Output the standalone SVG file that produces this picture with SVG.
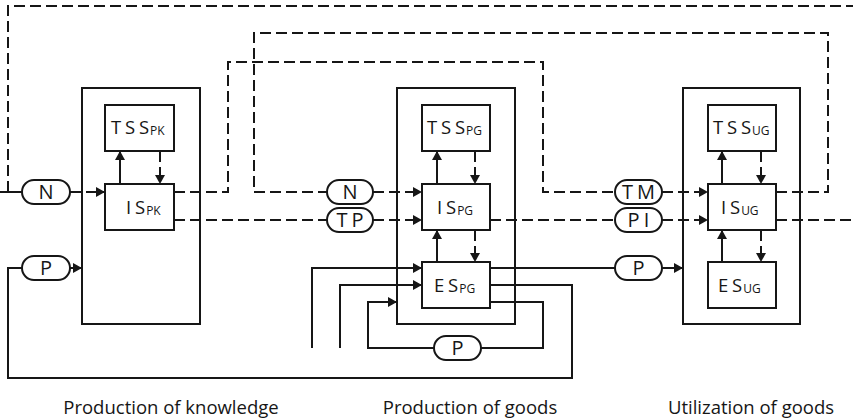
<svg xmlns="http://www.w3.org/2000/svg" width="853" height="420" viewBox="0 0 853 420">
  <defs>
    <marker id="arrow" markerUnits="userSpaceOnUse" markerWidth="9" markerHeight="10" refX="9" refY="5" orient="auto">
      <path d="M0,0 L9,5 L0,10 z" fill="#161616"/>
    </marker>
    <style>
      .frame{fill:none;stroke:#161616;stroke-width:2}
      .box{fill:#fff;stroke:#161616;stroke-width:2}
      .pill{fill:#fff;stroke:#161616;stroke-width:2}
      .solid{fill:none;stroke:#161616;stroke-width:2}
      .dash{fill:none;stroke:#161616;stroke-width:2;stroke-dasharray:11 5}
      .arr{marker-end:url(#arrow)}
      text{font-family:"Open Sans","Noto Sans","Liberation Sans",sans-serif;fill:#161616}
      .lbl{font-size:18.5px;word-spacing:-1px}
      .sub{font-size:12px;word-spacing:0}
      .plbl{font-size:20px;text-anchor:middle;word-spacing:-1px}
      .cap{font-size:18.5px;text-anchor:middle}
    </style>
  </defs>

  <!-- subsystem frames -->
  <g id="frame-pk"><rect class="frame" x="82" y="88" width="118" height="236"/></g>
  <g id="frame-pg"><rect class="frame" x="397" y="88" width="118" height="236"/></g>
  <g id="frame-ug"><rect class="frame" x="683" y="88" width="117" height="236"/></g>

  <g id="connectors">
    <!-- information flows (dashed) -->
    <path class="solid" d="M0,192 H22"/>
    <path class="dash" d="M8,192 V6 H853"/>
    <path class="dash arr" d="M70,192 H105"/>
    <path class="dash" d="M174,192 H228 V62 H543 V192 H615"/>
    <path class="dash arr" d="M662,192 H708"/>
    <path class="dash" d="M776,192 H828 V33 H254 V192 H327"/>
    <path class="dash arr" d="M373,192 H422"/>
    <path class="dash" d="M174,220 H327"/>
    <path class="dash arr" d="M373,220 H422"/>
    <path class="dash" d="M490,220 H615"/>
    <path class="dash arr" d="M662,220 H708"/>
    <path class="dash" d="M776,220 H853"/>

    <!-- product flows (solid) -->
    <path class="solid" d="M490,268 H615"/>
    <path class="solid arr" d="M662,268 H683"/>
    <path class="solid" d="M490,285 H572 V378 H8 V268 H22"/>
    <path class="solid arr" d="M70,268 H82"/>
    <path class="solid" d="M490,302 H543 V348 H481"/>
    <path class="solid arr" d="M434,348 H368 V302 H397"/>
    <path class="solid arr" d="M312,348 V268 H422"/>
    <path class="solid arr" d="M340,348 V285 H422"/>

    <!-- links inside subsystems -->
    <path class="solid arr" d="M120,184 V151"/>
    <path class="dash arr" d="M160,151 V184"/>
    <path class="solid arr" d="M437,184 V151"/>
    <path class="dash arr" d="M475,151 V184"/>
    <path class="solid arr" d="M437,262 V230"/>
    <path class="dash arr" d="M475,230 V262"/>
    <path class="solid arr" d="M722,184 V151"/>
    <path class="dash arr" d="M761,151 V184"/>
    <path class="solid arr" d="M722,262 V230"/>
    <path class="dash arr" d="M761,230 V262"/>
  </g>

  <!-- production of knowledge -->
  <g id="tss-pk"><rect class="box" x="105" y="105" width="69" height="46"/>
    <text class="lbl" x="111" y="134">T S S<tspan class="sub" dx="1" dy="1">PK</tspan></text></g>
  <g id="is-pk"><rect class="box" x="105" y="184" width="69" height="46"/>
    <text class="lbl" x="126" y="214">I S<tspan class="sub" dx="1" dy="1">PK</tspan></text></g>

  <!-- production of goods -->
  <g id="tss-pg"><rect class="box" x="422" y="105" width="68" height="46"/>
    <text class="lbl" x="427" y="134">T S S<tspan class="sub" dx="1" dy="1">PG</tspan></text></g>
  <g id="is-pg"><rect class="box" x="422" y="184" width="68" height="46"/>
    <text class="lbl" x="437" y="214">I S<tspan class="sub" dx="1" dy="1">PG</tspan></text></g>
  <g id="es-pg"><rect class="box" x="422" y="262" width="68" height="46"/>
    <text class="lbl" x="434" y="292">E S<tspan class="sub" dx="1" dy="1">PG</tspan></text></g>

  <!-- utilization of goods -->
  <g id="tss-ug"><rect class="box" x="708" y="105" width="68" height="46"/>
    <text class="lbl" x="713" y="134">T S S<tspan class="sub" dx="1" dy="1">UG</tspan></text></g>
  <g id="is-ug"><rect class="box" x="708" y="184" width="68" height="46"/>
    <text class="lbl" x="721" y="214">I S<tspan class="sub" dx="1" dy="1">UG</tspan></text></g>
  <g id="es-ug"><rect class="box" x="708" y="262" width="68" height="46"/>
    <text class="lbl" x="718" y="292">E S<tspan class="sub" dx="1" dy="1">UG</tspan></text></g>

  <!-- flow tokens -->
  <g id="pill-n-pk"><rect class="pill" x="22" y="180" width="48" height="24" rx="12"/><text class="plbl" x="46" y="199">N</text></g>
  <g id="pill-p-pk"><rect class="pill" x="22" y="256" width="48" height="24" rx="12"/><text class="plbl" x="46" y="275">P</text></g>
  <g id="pill-n-pg"><rect class="pill" x="327" y="180" width="46" height="24" rx="12"/><text class="plbl" x="350" y="199">N</text></g>
  <g id="pill-tp"><rect class="pill" x="327" y="208" width="46" height="24" rx="12"/><text class="plbl" x="350" y="227">T P</text></g>
  <g id="pill-tm"><rect class="pill" x="615" y="180" width="47" height="24" rx="12"/><text class="plbl" x="638.5" y="199">T M</text></g>
  <g id="pill-pi"><rect class="pill" x="615" y="208" width="47" height="24" rx="12"/><text class="plbl" x="638.5" y="227">P I</text></g>
  <g id="pill-p-ug"><rect class="pill" x="615" y="256" width="47" height="24" rx="12"/><text class="plbl" x="638.5" y="275">P</text></g>
  <g id="pill-p-loop"><rect class="pill" x="434" y="336" width="47" height="24" rx="12"/><text class="plbl" x="457.5" y="355">P</text></g>

  <!-- captions -->
  <text class="cap" x="171" y="414">Production of knowledge</text>
  <text class="cap" x="470" y="414">Production of goods</text>
  <text class="cap" x="751" y="414">Utilization of goods</text>
</svg>
